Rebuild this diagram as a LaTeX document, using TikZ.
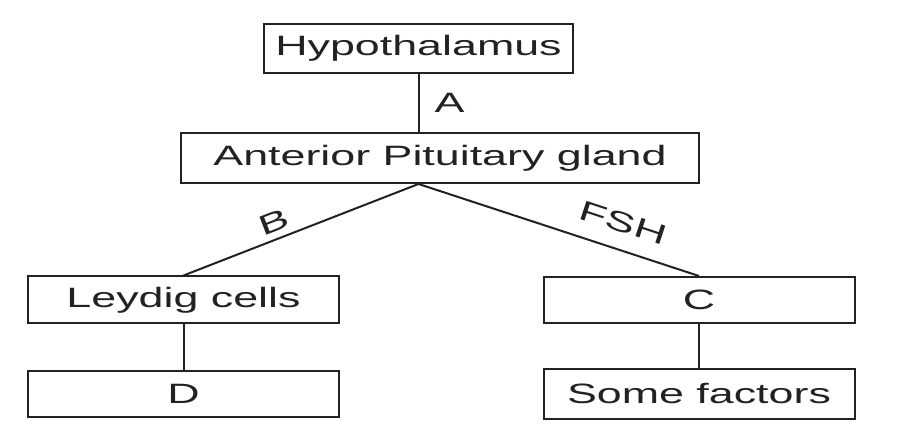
\documentclass[tikz,border=0pt]{standalone}
\usepackage{fontspec}
\setmainfont{Liberation Sans}[FakeStretch=1.6]
\usetikzlibrary{positioning,calc}
\definecolor{ink}{RGB}{34,34,34}
\tikzset{
  box/.style={draw=ink,line width=1pt,text=ink,minimum width=155.5pt,
    minimum height=23.5pt,inner sep=0pt,font=\fontsize{14}{16}\selectfont},
  link/.style={draw=ink,line width=1pt},
  tag/.style={text=ink,inner sep=2pt,font=\fontsize{14}{16}\selectfont}
}
\begin{document}
\begin{tikzpicture}[x=0.5pt,y=0.5pt]
\useasboundingbox (0,0) rectangle (899,448);
\node[box,minimum width=154.5pt,minimum height=24.5pt] (hyp) at (418.5,399.5) {Hypothalamus};
\node[box,minimum width=259pt,minimum height=25pt] (apg) at (440,290) {Anterior Pituitary gland};
\node[box] (ley) at (183.5,148) {Leydig cells};
\node[box,minimum height=23pt] (dbox) at (183.5,54) {D};
\node[box,minimum height=23pt] (cbox) at (699,148) {C};
\node[box,minimum height=25pt] (sfac) at (699,54) {Some factors};
\coordinate (br) at (hyp.south |- apg.south);
% hormone links
\draw[link] (hyp) -- node[tag,right=5.5pt]{A} (hyp.south |- apg.north);
\draw[link] (ley.north) -- node[tag,sloped,above=1pt,pos=0.41]{B} (br);
\draw[link] (br) -- node[tag,sloped,above=6pt,pos=0.7]{FSH} (cbox.north);
\draw[link] (ley) -- (dbox);
\draw[link] (cbox) -- (sfac);
\end{tikzpicture}
\end{document}
